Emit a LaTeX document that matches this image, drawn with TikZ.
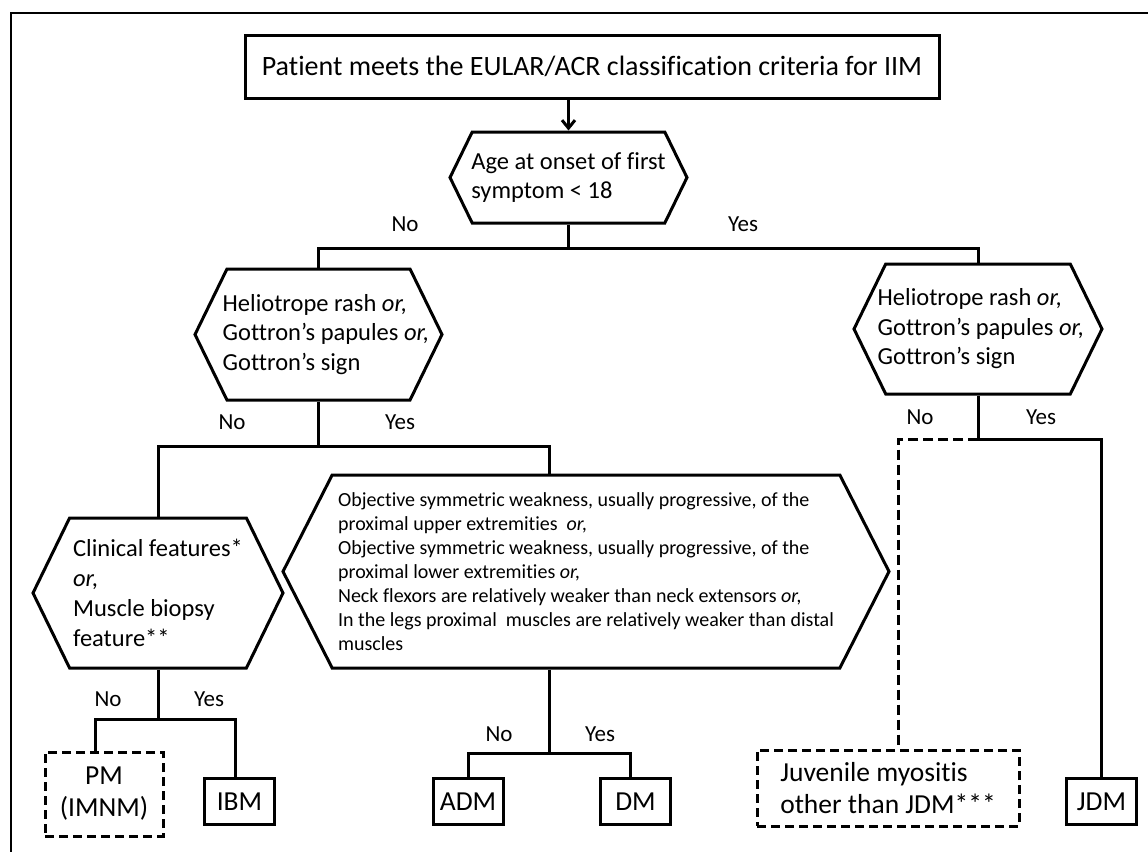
\documentclass[tikz,border=0pt]{standalone}
\usepackage{fontspec}
\setmainfont{Carlito}[Ligatures={TeX,NoCommon}]
\usetikzlibrary{arrows.meta,shapes.symbols}
\newcommand{\orit}{\textit{or,}}

\begin{document}
\begin{tikzpicture}[x=1pt,y=-1pt,line width=3pt,
    box/.style={draw,rectangle,inner sep=0pt,font=\fontsize{27.5}{32}\selectfont},
    dbox/.style={box,dash pattern=on 9pt off 5pt},
    hexa/.style={draw,signal,signal to=east and west,signal pointer angle=128,
      inner ysep=0pt,inner xsep=-30pt,align=left,font=\fontsize{24.5}{29.5}\selectfont},
    lbl/.style={font=\fontsize{23}{27}\selectfont}]
  \useasboundingbox (0,0) rectangle (1148,852);
  \draw[line width=1.5pt] (1148,13) -| (11,852); % frame

  \node[box,minimum width=694pt,minimum height=63pt,font=\fontsize{28}{33}\selectfont]
    (start) at (592,66.5) {Patient meets the EULAR/ACR classification criteria for IIM};
  \node[hexa,minimum width=237pt,minimum height=91pt] (age) at (568.5,177.5)
    {Age at onset of first\\symptom < 18};
  \node[hexa,minimum width=247pt,minimum height=131pt] (helioL) at (318.5,334.5)
    {\hspace*{15pt}Heliotrope rash \orit\\\hspace*{15pt}Gottron's papules \orit\\\hspace*{15pt}Gottron's sign};
  \node[hexa,minimum width=248pt,minimum height=130pt] (helioR) at (978,329)
    {\hspace*{6pt}Heliotrope rash \orit\\\hspace*{6pt}Gottron's papules \orit\\\hspace*{6pt}Gottron's sign};
  \node[hexa,minimum width=250pt,minimum height=150pt,font=\fontsize{24.5}{30}\selectfont]
    (clin) at (158,593) {Clinical features*\\\orit\\Muscle biopsy\\feature**};
  \node[hexa,minimum width=606pt,minimum height=193pt,signal pointer angle=126,
    font=\fontsize{20}{24}\selectfont] (weak) at (586,571.5)
    {Objective symmetric weakness, usually progressive, of the\\
     proximal upper extremities \ \orit\\
     Objective symmetric weakness, usually progressive, of the\\
     proximal lower extremities \orit\\
     Neck flexors are relatively weaker than neck extensors \orit\\
     In the legs proximal \ muscles are relatively weaker than distal\\
     muscles};

  % outcomes
  \node[dbox,minimum width=118pt,minimum height=84pt,align=center] (pm) at (104,794) {PM\\(IMNM)};
  \node[dbox,minimum width=262pt,minimum height=76pt,align=left] (juv) at (888,788)
    {Juvenile myositis\\other than JDM***};
  \foreach \nm/\x/\txt in {ibm/239.5/IBM, adm/468/ADM, dm/635.5/DM, jdm/1101.5/JDM}
    \node[box,minimum width=70pt,minimum height=46pt] (\nm) at (\x,801.5) {\txt};

  % connectors
  \coordinate (wk) at (549,0);
  \draw[-{Straight Barb[length=8pt,width=13pt]}] (start.south -| age.north) -- (age.north);
  \path (age.south) ++(0,24) coordinate (j1);
  \path (helioL.south) ++(0,45) coordinate (j2);
  \path (clin.south) ++(0,50) coordinate (j3);
  \path (wk |- weak.south) ++(0,84) coordinate (j4);
  \path (helioR.south) ++(0,44) coordinate (j5);
  \draw (age.south) -- (j1);
  \draw (helioL.north) |- (j1) -| (helioR.north);
  \draw (helioL.south) -- (j2);
  \draw (clin.north) |- (j2) -| (wk |- weak.north);
  \draw (clin.south) -- (j3);
  \draw ([xshift=-9pt]pm.north) |- (j3) -| ([xshift=-4pt]ibm.north);
  \draw (wk |- weak.south) -- (j4);
  \draw (adm.north) |- (j4) -| ([xshift=-5pt]dm.north);
  \draw (helioR.south) -- (j5) -| (jdm.north);
  \draw[dash pattern=on 10pt off 5pt] (j5) -| ([xshift=10pt]juv.north);

  \foreach \i/\x/\y/\t in {1/405/224/No, 2/743/224/Yes, 3/232/422/No, 4/400/422/Yes,
      5/108/699/No, 6/209/699/Yes, 7/499/734/No, 8/600/734/Yes, 9/920/417/No, 10/1041/417/Yes}
    \node[lbl] (lab\i) at (\x,\y) {\t};
\end{tikzpicture}
\end{document}
